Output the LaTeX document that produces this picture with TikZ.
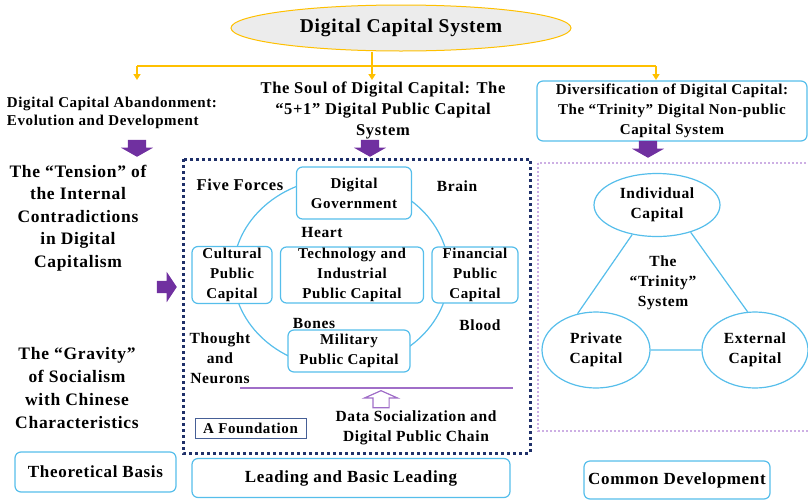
\documentclass[tikz,border=0pt]{standalone}
\usepackage{fontspec}
\setmainfont{Liberation Serif}[LetterSpace=4]
\usetikzlibrary{shapes.geometric,shapes.arrows,arrows.meta}

\definecolor{boxblue}{RGB}{86,190,235}
\definecolor{gold}{RGB}{255,192,0}
\definecolor{arrowpurple}{RGB}{112,48,160}
\definecolor{lightpurple}{RGB}{160,110,200}
\definecolor{navy}{RGB}{31,48,105}
\definecolor{slate}{RGB}{70,95,150}
\definecolor{lilac}{RGB}{205,175,228}

\newcommand{\bsize}[2]{\bfseries\fontsize{#1}{#2}\selectfont}

\begin{document}
\begin{tikzpicture}[x=1pt,y=-1pt,
  box/.style={draw=boxblue,line width=1.2pt,rounded corners=6pt,fill=white,align=center,inner sep=0pt,font=\bsize{15}{20}},
  capital/.style={ellipse,draw=boxblue,line width=1.2pt,fill=white,align=center,inner sep=0pt,font=\bsize{15.5}{20}},
  txt/.style={align=center,font=\bsize{15.5}{20}},
  blockarrow/.style={single arrow,fill=arrowpurple,anchor=tip,inner xsep=0pt},
  downarrow/.style={blockarrow,rotate=-90,inner ysep=9pt,minimum height=17pt,single arrow head extend=7pt,single arrow tip angle=121},
  feed/.style={draw=gold,line width=2pt},
  feedtip/.style={feed,-{Triangle[width=7pt,length=6pt]}}]
  \useasboundingbox (0,0) rectangle (808,501);

  % frames of the two lower blocks
  \draw[navy,line width=3pt,dash pattern=on 3pt off 3pt] (183,159) rectangle (530,453);
  \draw[lilac,line width=1.3pt,dash pattern=on 2pt off 2pt] (538,163) rectangle (812,431);

  % top
  \node[ellipse,draw=gold,fill=gray!15,line width=1pt,minimum width=340pt,minimum height=46pt,font=\bsize{19.5}{24}] (sys) at (401,28) {Digital Capital System};
  \coordinate (split) at (372,66);
  \coordinate (fl) at (137,66);
  \coordinate (fr) at (656,66);
  \draw[feed] (sys.south -| split) -- (split);
  \draw[feed] (fl) -- (fr);
  \draw[feedtip] (fl) -- ++(0,14);
  \draw[feedtip] (split) -- ++(0,14);
  \draw[feedtip] (fr) -- ++(0,14);

  \node[align=left,font=\bsize{15}{18}] (hdrL) at (112,113) {Digital Capital Abandonment:\\Evolution and Development};
  \node[txt,font=\bsize{16.5}{21}] (hdrM) at (383,110) {The Soul of Digital Capital: The\\“5+1” Digital Public Capital\\System};
  \node[box,minimum width=270pt,minimum height=60pt,font=\bsize{15}{20}] (hdrR) at (672,111) {Diversification of Digital Capital:\\The “Trinity” Digital Non-public\\Capital System};

  \node[downarrow] (dl) at (137,157) {};
  \node[downarrow] (dm) at (370,157) {};
  \node[downarrow] (dr) at (648,158) {};

  % left column
  \node[txt,font=\bsize{17.5}{22.5}] (tension) at (78,218) {The “Tension” of\\the Internal\\Contradictions\\in Digital\\Capitalism};
  \node[txt,font=\bsize{17.5}{23}] (gravity) at (77,388) {The “Gravity”\\of Socialism\\with Chinese\\Characteristics};
  \node[blockarrow,inner ysep=6pt,minimum height=20pt,single arrow head extend=9pt,single arrow tip angle=113] (into) at (177,287) {};

  % five forces ring
  \node[ellipse,draw=boxblue,line width=1.2pt,minimum width=216pt,minimum height=190pt] (ring) at (341,273) {};
  \node[txt,font=\bsize{16.5}{20}] (five) at (240,185) {Five Forces};
  \node[box,minimum width=115pt,minimum height=52pt] (gov) at (354,193) {Digital\\Government};
  \node[txt] (brain) at (457,186) {Brain};
  \node[txt] (heart) at (322,232) {Heart};
  \node[box,minimum width=80pt,minimum height=57pt] (cult) at (232,275) {Cultural\\Public\\Capital};
  \node[box,minimum width=143pt,minimum height=56pt] (tech) at (352,275) {Technology and\\Industrial\\Public Capital};
  \node[box,minimum width=86pt,minimum height=56pt] (fin) at (475,275) {Financial\\Public\\Capital};
  \node[txt] (bones) at (314,323) {Bones};
  \node[txt] (blood) at (480,325) {Blood};
  \node[box,minimum width=122pt,minimum height=42pt] (mil) at (349,351) {Military\\Public Capital};
  \node[txt] (thought) at (220,358) {Thought\\and\\Neurons};

  % foundation
  \coordinate (baseL) at (240,388);
  \coordinate (baseR) at (513,388);
  \draw[lightpurple,line width=1.5pt] (baseL) -- (baseR);
  \node[blockarrow,rotate=90,fill=white,draw=lightpurple,line width=1.2pt,inner ysep=7.5pt,minimum height=17pt,single arrow head extend=8.5pt,single arrow tip angle=132] (lift) at (381,390) {};
  \node[txt] (chain) at (416,428) {Data Socialization and\\Digital Public Chain};
  \node[draw=slate,line width=1pt,minimum width=111pt,minimum height=20pt,inner sep=0pt,font=\bsize{15}{18}] (found) at (250.5,428.5) {A Foundation};

  % trinity
  \node[capital,minimum width=126pt,minimum height=63pt] (indiv) at (657,205) {Individual\\Capital};
  \node[capital,minimum width=108pt,minimum height=76pt] (priv) at (596,350) {Private\\Capital};
  \node[capital,minimum width=106pt,minimum height=76pt] (ext) at (755,350) {External\\Capital};
  \node[txt] (trinity) at (663,283) {The\\“Trinity”\\System};
  \path[draw=boxblue,line width=1.2pt] (indiv.230) -- (priv.117) (indiv.321) -- (ext.101) (priv) -- (ext);

  % bottom row
  \node[box,minimum width=161pt,minimum height=40pt,font=\bsize{17}{20}] (basis) at (95.5,472) {Theoretical Basis};
  \node[box,minimum width=318pt,minimum height=39pt,font=\bsize{17}{20}] (lead) at (351,478) {Leading and Basic Leading};
  \node[box,minimum width=186pt,minimum height=38pt,font=\bsize{17}{20}] (common) at (677,480) {Common Development};
\end{tikzpicture}
\end{document}
